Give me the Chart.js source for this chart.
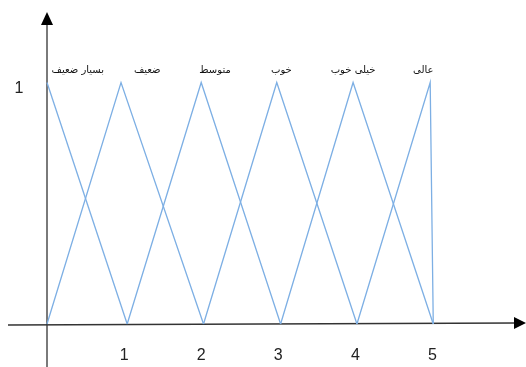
<!DOCTYPE html>
<html>
<head>
<meta charset="utf-8">
<script src="https://cdn.jsdelivr.net/npm/chart.js@4"></script>
<style>
  body { margin: 0; background: #fff; }
  #wrap { width: 526px; height: 367px; position: relative; }
</style>
</head>
<body>
<div id="wrap"><canvas id="fuzzyChart"></canvas></div>
<script>
'use strict'

// Membership functions (x, degree)
const setNames = ['بسیار ضعیف', 'ضعیف', 'متوسط', 'خوب', 'خیلی خوب', 'عالی'];
const setXs = [
  [0, 1.04],
  [0, 0.96, 2.03],
  [1.04, 2.0, 3.03],
  [2.03, 2.98, 4.02],
  [3.03, 3.97, 5.01],
  [4.02, 4.97, 5.01]
];
const setYs = [
  [1, 0],
  [0, 1, 0],
  [0, 1, 0],
  [0, 1, 0],
  [0, 1, 0],
  [0, 1, 0]
];
// where each name sits above its peak (x in data units)
const nameXs = [0.40, 1.30, 2.18, 3.04, 3.97, 4.88];
const xTicks = [1, 2, 3, 4, 5];
const yTicks = [1];

const lineColor = 'rgb(125, 175, 228)';

const datasets = setNames.map((name, i) => ({
  label: name,
  data: setXs[i].map((x, j) => ({ x: x, y: setYs[i][j] })),
  showLine: true,
  borderColor: lineColor,
  borderWidth: 1.3,
  pointRadius: 0,
  fill: false
}));

// Draw the arrow axes, tick numbers and set names
const axesPlugin = {
  id: 'arrowAxes',
  beforeDatasetsDraw(chart) {
    const ctx = chart.ctx;
    const xs = chart.scales.x;
    const ys = chart.scales.y;
    const x0 = xs.getPixelForValue(0);
    const y0 = ys.getPixelForValue(0);
    const w = chart.width;
    const h = chart.height;

    ctx.save();
    // y axis
    ctx.strokeStyle = '#7a7a7a';
    ctx.lineWidth = 2;
    ctx.beginPath();
    ctx.moveTo(x0, h);
    ctx.lineTo(x0, 24);
    ctx.stroke();
    ctx.fillStyle = '#000';
    ctx.beginPath();
    ctx.moveTo(x0, 12);
    ctx.lineTo(x0 - 6, 25);
    ctx.lineTo(x0 + 6, 25);
    ctx.closePath();
    ctx.fill();

    // x axis
    ctx.strokeStyle = '#333';
    ctx.lineWidth = 1.5;
    ctx.beginPath();
    ctx.moveTo(8, y0 + 1);
    ctx.lineTo(w - 10, y0 - 1);
    ctx.stroke();
    ctx.fillStyle = '#000';
    ctx.beginPath();
    ctx.moveTo(w, y0 - 1);
    ctx.lineTo(w - 12, y0 - 7);
    ctx.lineTo(w - 12, y0 + 5);
    ctx.closePath();
    ctx.fill();

    // tick numbers
    ctx.fillStyle = '#222';
    ctx.font = '16px "Liberation Sans", Arial, sans-serif';
    ctx.textAlign = 'center';
    ctx.textBaseline = 'middle';
    xTicks.forEach(t => {
      ctx.fillText(String(t), xs.getPixelForValue(t), y0 + 32);
    });
    yTicks.forEach(t => {
      ctx.fillText(String(t), 19, ys.getPixelForValue(t) + 6);
    });

    // set names
    ctx.font = '10px "DejaVu Sans", sans-serif';
    ctx.fillStyle = '#111';
    ctx.direction = 'rtl';
    setNames.forEach((name, i) => {
      ctx.fillText(name, xs.getPixelForValue(nameXs[i]), ys.getPixelForValue(1) - 12);
    });
    ctx.restore();
  }
};

document.addEventListener('DOMContentLoaded', function () {
  const ctx = document.getElementById('fuzzyChart').getContext('2d');
  new Chart(ctx, {
    type: 'scatter',
    data: { datasets: datasets },
    options: {
      responsive: true,
      maintainAspectRatio: false,
      animation: false,
      layout: { padding: 0 },
      plugins: {
        legend: { display: false },
        tooltip: { enabled: false }
      },
      scales: {
        x: { type: 'linear', display: false, min: -0.6096, max: 6.2127 },
        y: { type: 'linear', display: false, min: -0.1781, max: 1.3416 }
      }
    },
    plugins: [axesPlugin]
  });
});
</script>
</body>
</html>
